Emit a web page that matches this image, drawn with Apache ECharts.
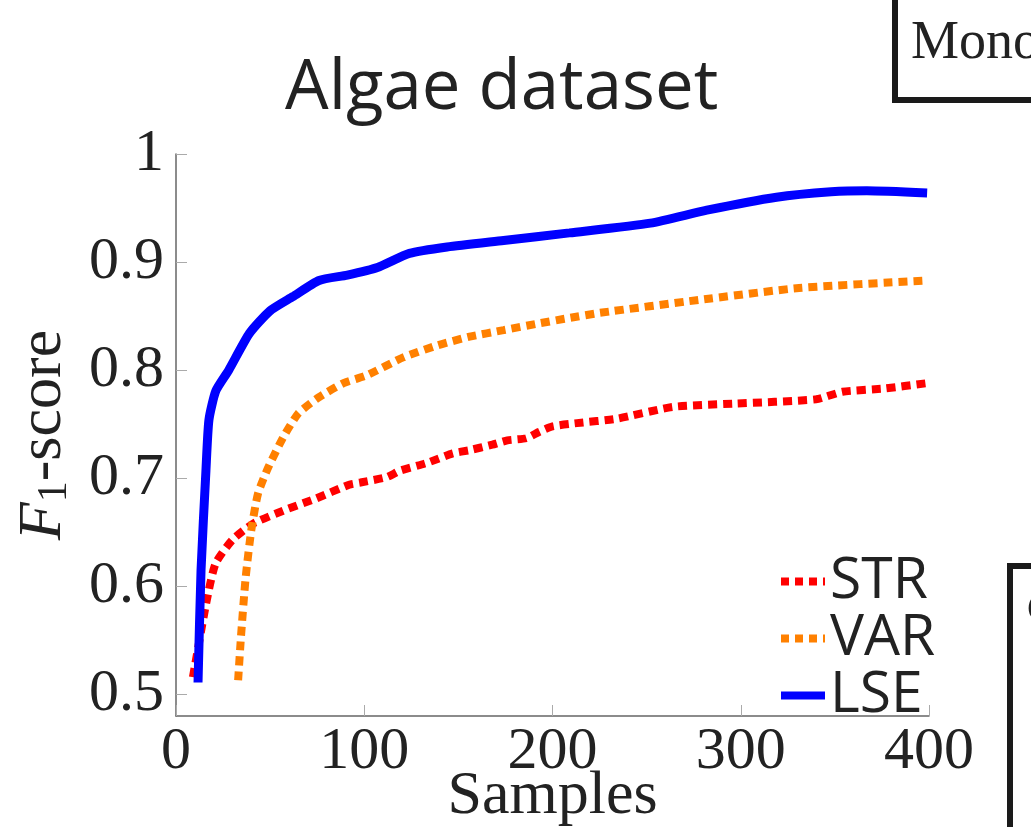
<!DOCTYPE html>
<html>
<head>
<meta charset="utf-8">
<script src="https://cdn.jsdelivr.net/npm/echarts@6/dist/echarts.min.js"></script>
<style>
  html, body { margin: 0; padding: 0; background: #fff; }
  #chart { width: 1031px; height: 827px; }
</style>
</head>
<body>
<div id="chart"></div>
<script>
// values
var strSamples = [9, 16, 21, 30, 41, 57, 74, 92, 98, 112, 119, 133, 147, 156, 168, 176, 186, 193, 200, 213, 234, 264, 296, 340, 354, 376, 399];
var strScores  = [0.516, 0.584, 0.621, 0.643, 0.658, 0.670, 0.681, 0.694, 0.696, 0.701, 0.707, 0.714, 0.723, 0.726, 0.731, 0.735, 0.737, 0.743, 0.748, 0.751, 0.755, 0.766, 0.769, 0.773, 0.780, 0.783, 0.788];

var varSamples = [33, 34.5, 37, 40, 43.6, 49, 57, 65, 76, 89, 101, 121, 139, 156, 174, 192, 208, 225, 278, 331, 399];
var varScores  = [0.513, 0.553, 0.608, 0.652, 0.686, 0.710, 0.738, 0.760, 0.775, 0.788, 0.795, 0.812, 0.823, 0.831, 0.837, 0.843, 0.848, 0.853, 0.865, 0.876, 0.883];

var lseSamples = [11.7, 13.3, 15.9, 17.5, 21.2, 28, 39, 50, 62, 76, 91, 107, 124, 144, 174, 209, 252, 282, 319, 348, 367, 399];
var lseScores  = [0.511, 0.615, 0.707, 0.754, 0.781, 0.800, 0.834, 0.855, 0.868, 0.883, 0.888, 0.895, 0.908, 0.914, 0.920, 0.927, 0.936, 0.948, 0.960, 0.965, 0.966, 0.964];

var yTicks = [0.5, 0.6, 0.7, 0.8, 0.9, 1];

function pairs(xs, ys) {
  return xs.map(function (x, i) { return [x, ys[i]]; });
}

var chart = echarts.init(document.getElementById('chart'));

var serif = 'Liberation Serif';
var sans = 'Open Sans';
// legend icons: dotted squares for STR / VAR, solid bar for LSE
var dotIcon = 'path://M0,0h8v8h-8z M14,0h8v8h-8z M28,0h8v8h-8z M42,0h2v8h-2z';
var barIcon = 'path://M0,0h44v8h-44z';

var option = {
  animation: false,
  title: {
    text: 'Algae dataset',
    left: 280,
    top: 50,
    textStyle: {
      fontFamily: sans,
      fontWeight: 'normal',
      fontSize: 69,
      color: '#222'
    }
  },
  legend: {
    orient: 'vertical',
    left: 776,
    top: 548,
    itemWidth: 44,
    itemHeight: 8,
    itemGap: 0,
    data: [
      { name: 'STR', icon: dotIcon },
      { name: 'VAR', icon: dotIcon },
      { name: 'LSE', icon: barIcon }
    ],
    textStyle: {
      fontFamily: sans,
      fontSize: 57,
      lineHeight: 53,
      color: '#222',
      padding: [0, 0, 0, 0]
    }
  },
  grid: {
    left: 176,
    right: 102,
    top: 154,
    bottom: 111,
    containLabel: false,
    outerBoundsMode: 'none'
  },
  xAxis: {
    type: 'value',
    min: 0,
    max: 400,
    interval: 100,
    name: 'Samples',
    nameLocation: 'middle',
    nameGap: 50,
    nameMoveOverlap: false,
    nameTextStyle: { fontFamily: serif, fontSize: 62, color: '#222' },
    axisLine: { lineStyle: { color: '#666', width: 1.5 } },
    axisTick: { inside: true, length: 11, lineStyle: { color: '#aaa' } },
    axisLabel: { fontFamily: serif, fontSize: 60, color: '#222', margin: 6 },
    splitLine: { show: false }
  },
  yAxis: {
    type: 'value',
    min: 0.48,
    max: 1,
    name: '{i|F}{s|1}-score',
    nameLocation: 'middle',
    nameGap: 100,
    nameMoveOverlap: false,
    nameTextStyle: {
      fontFamily: serif,
      fontSize: 62,
      color: '#222',
      rich: {
        i: { fontFamily: serif, fontStyle: 'italic', fontSize: 62, color: '#222' },
        s: { fontFamily: serif, fontSize: 42, color: '#222', padding: [22, 0, 0, 0] }
      }
    },
    axisLine: { lineStyle: { color: '#666', width: 1.5 } },
    axisTick: { inside: true, length: 11, lineStyle: { color: '#aaa' }, customValues: yTicks },
    axisLabel: {
      fontFamily: serif, fontSize: 60, color: '#222', margin: 12,
      customValues: yTicks,
      formatter: function (v) { return String(+v.toFixed(1)); }
    },
    splitLine: { show: false }
  },
  series: [{
    name: 'STR',
    type: 'line',
    symbol: 'none',
    smooth: 0.2,
    lineStyle: { color: '#ff0000', width: 8, type: [9, 6], cap: 'butt' },
    itemStyle: { color: '#ff0000' },
    data: pairs(strSamples, strScores),
    z: 2
  }, {
    name: 'VAR',
    type: 'line',
    symbol: 'none',
    smooth: 0.2,
    lineStyle: { color: '#ff8000', width: 8, type: [9, 6], cap: 'butt' },
    itemStyle: { color: '#ff8000' },
    data: pairs(varSamples, varScores),
    z: 3
  }, {
    name: 'LSE',
    type: 'line',
    symbol: 'none',
    smooth: 0.2,
    lineStyle: { color: '#0000ff', width: 9, cap: 'butt' },
    itemStyle: { color: '#0000ff' },
    data: pairs(lseSamples, lseScores),
    z: 4
  }],
  graphic: [{
    type: 'rect',
    shape: { x: 895, y: -20, width: 200, height: 120 },
    style: { fill: '#fff', stroke: '#1a1a1a', lineWidth: 6 }
  }, {
    type: 'text',
    x: 911,
    y: 17,
    style: { text: 'Mono', fontFamily: serif, fontSize: 54, fill: '#222' }
  }, {
    type: 'rect',
    shape: { x: 1010, y: 566, width: 100, height: 300 },
    style: { fill: '#fff', stroke: '#1a1a1a', lineWidth: 6 }
  }, {
    type: 'text',
    x: 1027,
    y: 590,
    style: { text: 'C', fontFamily: serif, fontSize: 40, fill: '#222' }
  }]
};

chart.setOption(option);
</script>
</body>
</html>
